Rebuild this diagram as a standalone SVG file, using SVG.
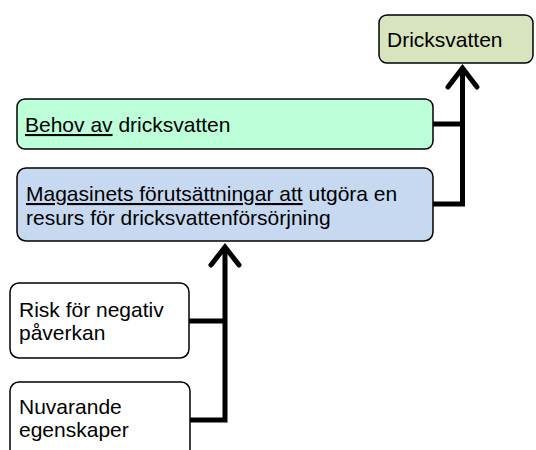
<svg xmlns="http://www.w3.org/2000/svg" width="536" height="450" viewBox="0 0 536 450">
  <style>
    .box { stroke: #000; stroke-width: 1.5; }
    .lbl { font-family: "Liberation Sans", Arial, sans-serif; font-size: 21px; fill: #000; }
    .u { text-decoration: underline; }
    .wire { fill: none; stroke: #000; stroke-width: 5; stroke-linejoin: miter; }
    .head { fill: none; stroke: #000; stroke-width: 5; stroke-linecap: round; stroke-linejoin: miter; }
  </style>
  <rect width="536" height="450" fill="#fff"/>

  <g id="dricksvatten">
    <rect class="box" x="379" y="15" width="154" height="48" rx="8" fill="#d7e4bd"/>
    <text class="lbl" x="387" y="47">Dricksvatten</text>
  </g>

  <g id="behov">
    <rect class="box" x="17" y="99" width="416" height="50" rx="8" fill="#bcffd8"/>
    <text class="lbl" x="25" y="132"><tspan class="u">Behov av</tspan> dricksvatten</text>
  </g>

  <g id="magasinets">
    <rect class="box" x="17" y="168" width="416" height="73" rx="9" fill="#c6d9f0"/>
    <text class="lbl" x="26" y="201"><tspan class="u">Magasinets förutsättningar att</tspan> utgöra en</text>
    <text class="lbl" x="26" y="225">resurs för dricksvattenförsörjning</text>
  </g>

  <g id="risk">
    <rect class="box" x="10" y="283" width="179" height="75" rx="9" fill="#fff"/>
    <text class="lbl" x="19" y="317">Risk för negativ</text>
    <text class="lbl" x="19" y="340">påverkan</text>
  </g>

  <g id="nuvarande">
    <rect class="box" x="10" y="382" width="180" height="100" rx="9" fill="#fff"/>
    <text class="lbl" x="19" y="414">Nuvarande</text>
    <text class="lbl" x="19" y="437">egenskaper</text>
  </g>

  <g id="connectors">
    <!-- upper tree: Behov + Magasinets -> Dricksvatten -->
    <path class="wire" d="M433,204 H462.5 V68"/>
    <path class="wire" d="M433,124 H462.5"/>
    <path class="head" d="M448,87 L462.5,68 L477,87"/>
    <!-- lower tree: Risk + Nuvarande -> Magasinets -->
    <path class="wire" d="M190,420 H225 V247"/>
    <path class="wire" d="M189,321 H225"/>
    <path class="head" d="M211,265 L225,247 L239,265"/>
  </g>
</svg>
